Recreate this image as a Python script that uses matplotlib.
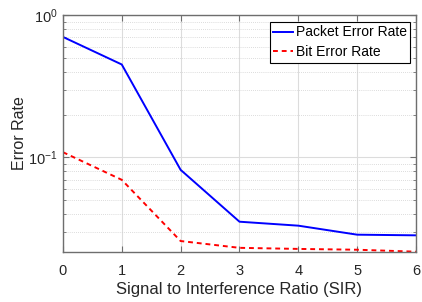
import matplotlib
matplotlib.use("Agg")
import matplotlib.pyplot as plt
from matplotlib.ticker import LogLocator, NullFormatter

sir = [0, 1, 2, 3, 4, 5, 6]
packet_error_rate = [0.703, 0.45, 0.0819, 0.0354, 0.0332, 0.0287, 0.0284]
bit_error_rate = [0.109, 0.0697, 0.0259, 0.0232, 0.0228, 0.0225, 0.0218]
x_ticks = [0, 1, 2, 3, 4, 5, 6]

plt.rcParams['font.family'] = ['Liberation Sans', 'DejaVu Sans']
plt.rcParams['mathtext.fontset'] = 'custom'
plt.rcParams['mathtext.rm'] = 'Liberation Sans'
plt.rcParams['mathtext.it'] = 'Liberation Sans'

fig = plt.figure(figsize=(4.22, 3.02), dpi=100)
ax = fig.add_axes([0.149, 0.1666, 0.837, 0.7834])

ax.plot(sir, packet_error_rate, color='#0000ff', lw=1.4, label='Packet Error Rate')
ax.plot(sir, bit_error_rate, color='#ff0000', lw=1.4, linestyle=(0, (2.5, 2)), label='Bit Error Rate')

ax.set_yscale('log')
ax.set_xlim(0, 6)
ax.set_ylim(min(bit_error_rate), 1)
ax.set_xticks(x_ticks)
ax.yaxis.set_minor_locator(LogLocator(base=10, subs=range(2, 10)))
ax.yaxis.set_minor_formatter(NullFormatter())

ax.grid(True, which='major', axis='both', color='#dcdcdc', lw=0.8, linestyle='-')
ax.grid(True, which='minor', axis='y', color='#d0d0d0', lw=0.6, linestyle=(0, (1, 1.5)))
ax.set_axisbelow(True)

dark = '#262626'
for s in ax.spines.values():
    s.set_color('#6e6e6e')
    s.set_linewidth(1.0)
ax.tick_params(which='both', direction='in', top=True, right=True, colors='#6e6e6e',
               labelcolor=dark, labelsize=10.5)
ax.tick_params(which='major', length=4, width=0.8)
ax.tick_params(which='minor', length=2.5, width=0.6)
ax.tick_params(axis='x', pad=9)
ax.tick_params(axis='y', pad=4)

ax.set_xlabel('Signal to Interference Ratio (SIR)', fontsize=12, color=dark, labelpad=3)
ax.set_ylabel('Error Rate', fontsize=11.5, color=dark, labelpad=0.5)

leg = ax.legend(loc='upper right', bbox_to_anchor=(410 / 422, (302 - 22) / 302),
                bbox_transform=fig.transFigure, borderaxespad=0,
                fontsize=10, frameon=True, fancybox=False,
                edgecolor='black', framealpha=1, handlelength=1.45, handletextpad=0.15,
                borderpad=0.25, labelspacing=0.4)
leg.get_frame().set_linewidth(0.8)

fig.savefig('out.png', dpi=100)
